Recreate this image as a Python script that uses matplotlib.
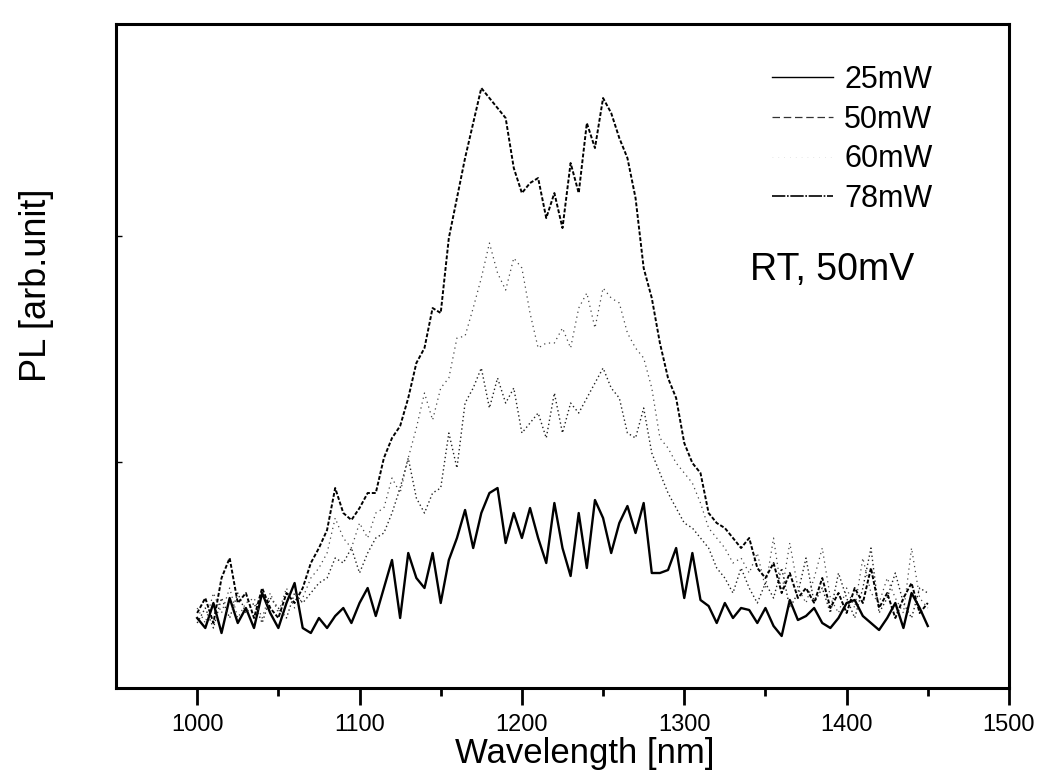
import numpy as np
import matplotlib
matplotlib.use("Agg")
import matplotlib.pyplot as plt
from matplotlib.lines import Line2D

plt.rcParams['font.family'] = ['Liberation Sans', 'DejaVu Sans']

# wavelength grid (nm), sampled every 5 nm from 1000 to 1450
wavelength = np.arange(1000, 1451, 5)

# PL intensity (arb. units, baseline = 0)
pl25 = [70, 60, 85, 55, 90, 65, 80, 60, 95, 75,
        60, 85, 105, 60, 55, 70, 60, 72, 80, 65,
        85, 100, 72, 100, 128, 70, 135, 110, 100, 135,
        85, 128, 150, 178, 140, 175, 195, 200, 145, 175,
        150, 180, 150, 125, 185, 140, 112, 175, 120, 188,
        170, 135, 165, 182, 155, 185, 115, 115, 118, 140,
        90, 135, 88, 82, 65, 85, 70, 80, 78, 65,
        80, 62, 52, 88, 68, 72, 80, 65, 60, 70,
        85, 88, 72, 65, 58, 70, 85, 60, 95, 80, 62]

pl50 = [65, 80, 60, 90, 70, 95, 75, 85, 65, 90,
        80, 70, 95, 85, 95, 105, 110, 130, 125, 140,
        115, 135, 150, 155, 175, 200, 230, 190, 175, 195,
        200, 255, 220, 285, 300, 320, 280, 310, 285, 300,
        255, 265, 275, 250, 295, 255, 285, 275, 290, 305,
        320, 300, 290, 255, 250, 280, 235, 215, 195, 180,
        165, 160, 150, 140, 120, 110, 95, 120, 100, 85,
        105, 90, 120, 80, 95, 130, 85, 100, 75, 115,
        90, 70, 100, 140, 75, 90, 115, 85, 70, 100, 95]

pl60 = [80, 65, 95, 75, 100, 70, 85, 90, 70, 95,
        75, 100, 80, 90, 110, 120, 135, 170, 150, 140,
        165, 150, 175, 180, 210, 195, 230, 260, 295, 268,
        300, 310, 350, 352, 380, 410, 445, 415, 398, 430,
        420, 375, 340, 345, 345, 360, 340, 380, 395, 360,
        400, 390, 385, 355, 340, 330, 300, 250, 240, 225,
        215, 205, 185, 160, 150, 140, 125, 130, 115, 135,
        100, 150, 95, 145, 100, 85, 110, 140, 90, 75,
        100, 80, 130, 95, 85, 110, 90, 75, 140, 90, 80]

pl78 = [75, 90, 65, 110, 130, 85, 95, 70, 100, 80,
        70, 95, 85, 100, 125, 140, 158, 200, 175, 168,
        180, 195, 195, 230, 250, 262, 290, 325, 340, 380,
        375, 450, 490, 530, 565, 600, 590, 580, 570, 520,
        495, 505, 510, 470, 495, 460, 525, 495, 565, 540,
        590, 575, 550, 530, 490, 420, 390, 345, 310, 290,
        245, 225, 215, 175, 165, 160, 150, 140, 150, 120,
        110, 125, 95, 115, 90, 100, 85, 110, 80, 95,
        75, 100, 85, 120, 80, 95, 70, 90, 105, 75, 85]

labels = ["25mW", "50mW", "60mW", "78mW"]

fig = plt.figure(figsize=(10.46, 7.76), dpi=100)
ax = fig.add_axes([0.1109, 0.1134, 0.8537, 0.8556])

ax.plot(wavelength, pl25, color='black', linewidth=1.7, linestyle='-')
ax.plot(wavelength, pl50, color='#222222', linewidth=1.0, linestyle=(0, (1, 2)))
ax.plot(wavelength, pl60, color='#444444', linewidth=0.9, linestyle=(0, (1, 3)))
ax.plot(wavelength, pl78, color='black', linewidth=1.4, linestyle=(0, (2, 1)))

ax.set_xlim(950, 1500)
ax.set_ylim(0, 664)
ax.set_xticks([1000, 1100, 1200, 1300, 1400, 1500])
ax.set_xticks([1050, 1150, 1250, 1350, 1450], minor=True)
ax.set_yticks([226, 452])
ax.set_yticklabels([])
ax.tick_params(axis='x', which='major', direction='out', length=12, width=2,
               labelsize=17, pad=7)
ax.tick_params(axis='x', which='minor', direction='out', length=6, width=2)
ax.tick_params(axis='y', direction='in', length=4, width=1)
for spine in ax.spines.values():
    spine.set_linewidth(2.2)

ax.set_xlabel("Wavelength [nm]", fontsize=25)
ax.xaxis.set_label_coords(0.525, -0.074)
fig.text(37 / 1046, 1 - 285 / 776, "PL [arb.unit]", rotation=90,
         fontsize=26, ha='center', va='center')

handles = [
    Line2D([], [], color='black', linewidth=1.0, linestyle='-'),
    Line2D([], [], color='#333333', linewidth=0.9, linestyle=(0, (6, 3))),
    Line2D([], [], color='#dddddd', linewidth=0.6, linestyle=(0, (1, 6))),
    Line2D([], [], color='black', linewidth=1.2, linestyle=(0, (8, 1, 1, 1))),
]
leg = ax.legend(handles, labels, loc='upper right', bbox_to_anchor=(0.945, 0.98),
                frameon=False, fontsize=22, handlelength=2.0, handletextpad=0.35,
                labelspacing=0.32)

ax.text(0.71, 0.63, "RT, 50mV", transform=ax.transAxes, fontsize=27,
        ha='left', va='center')

fig.savefig("out.png", dpi=100)
